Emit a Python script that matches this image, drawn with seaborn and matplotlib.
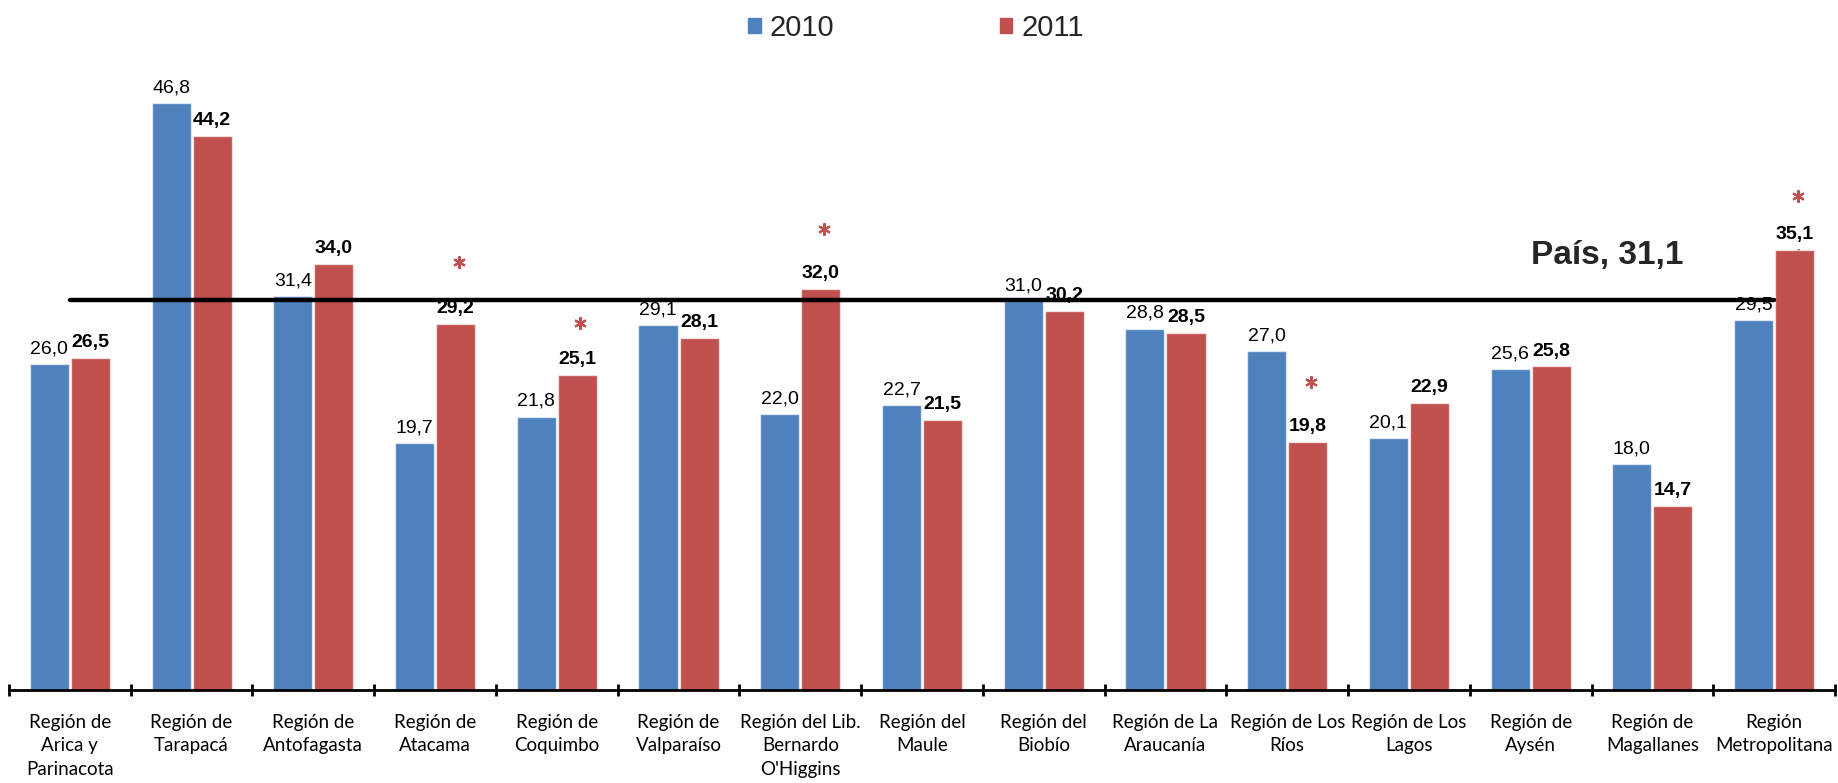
import matplotlib
matplotlib.use("Agg")
import matplotlib.pyplot as plt
import seaborn as sns
import pandas as pd
import numpy as np

# data
regions = ["Región de\nArica y\nParinacota", "Región de\nTarapacá", "Región de\nAntofagasta",
           "Región de\nAtacama", "Región de\nCoquimbo", "Región de\nValparaíso",
           "Región del Lib.\nBernardo\nO'Higgins", "Región del\nMaule", "Región del\nBiobío",
           "Región de La\nAraucanía", "Región de Los\nRíos", "Región de Los\nLagos",
           "Región de\nAysén", "Región de\nMagallanes", "Región\nMetropolitana"]
years = ["2010", "2011"]
values_2010 = [26.0, 46.8, 31.4, 19.7, 21.8, 29.1, 22.0, 22.7, 31.0, 28.8, 27.0, 20.1, 25.6, 18.0, 29.5]
values_2011 = [26.5, 44.2, 34.0, 29.2, 25.1, 28.1, 32.0, 21.5, 30.2, 28.5, 19.8, 22.9, 25.8, 14.7, 35.1]
# heights of the red "*" marks (significant change), None where there is none
asterisk_2011 = [None, None, None, 34.1, 29.3, None, 36.8, None, None, None, 24.6, None, None, None, 39.4]
pais_label = "País"
pais_value = 31.1

colors = {"2010": "#4F81BD", "2011": "#C0504D"}

def fmt(v):
    return f"{v:.1f}".replace(".", ",")

df = pd.DataFrame({
    "region": regions * 2,
    "year": [years[0]] * len(regions) + [years[1]] * len(regions),
    "value": values_2010 + values_2011,
})

sns.set_style("white")
plt.rcParams["font.family"] = ["Liberation Sans", "DejaVu Sans"]

fig = plt.figure(figsize=(18.38, 7.83), dpi=100)
ax = fig.add_axes([9 / 1838, 1 - 690 / 783, 1826 / 1838, 627 / 783])

sns.barplot(data=df, x="region", y="value", hue="year", palette=colors, saturation=1,
            width=0.675, gap=0.05, edgecolor=(1, 1, 1, 0.6), linewidth=1, ax=ax, zorder=2)
ax.get_legend().remove()

# data labels: 2010 regular, 2011 bold
ax.bar_label(ax.containers[0], labels=[fmt(v) for v in values_2010], padding=5,
             fontsize=14, color="black", zorder=3)
ax.bar_label(ax.containers[1], labels=[fmt(v) for v in values_2011], padding=5,
             fontsize=14, fontweight="bold", color="black", zorder=3)

# asterisks over the 2011 bars
for bar, h in zip(ax.containers[1], asterisk_2011):
    if h is None:
        continue
    ax.plot(bar.get_x() + bar.get_width() / 2 + 0.025, h, marker=(6, 2, 0), markersize=9,
            markeredgewidth=1.5, color=colors["2011"], linestyle="none", zorder=3)
# small one peeking behind the Metropolitana bar
last = ax.containers[1][-1]
ax.plot(last.get_x() + last.get_width() / 2 + 0.025, values_2011[-1] - 0.4, marker=(6, 2, 0),
        markersize=9, markeredgewidth=1.5, color=colors["2011"], linestyle="none", zorder=1)

# national average line
ax.plot([0, len(regions) - 1], [pais_value, pais_value], color="black", lw=3.2,
        solid_capstyle="round", zorder=4)
ax.text(12.0, 34.0, f"{pais_label}, {fmt(pais_value)}", fontsize=24, fontweight="bold",
        ha="left", va="baseline", zorder=5)

ax.set_xlim(-0.5, len(regions) - 0.5)
ax.set_ylim(0, 50)
ax.set_xlabel("")
ax.set_ylabel("")
ax.set_yticks([])
for side in ["left", "right", "top"]:
    ax.spines[side].set_visible(False)
ax.spines["bottom"].set_color("black")
ax.spines["bottom"].set_linewidth(2)

ax.set_xticks(np.arange(-0.5, len(regions), 1), minor=True)
ax.tick_params(axis="x", which="both", bottom=True)
ax.tick_params(axis="x", which="minor", direction="inout", length=9, width=2, color="black")
ax.tick_params(axis="x", which="major", length=0, pad=17)
for lbl in ax.get_xticklabels():
    lbl.set_fontfamily(["Lato", "DejaVu Sans"])
    lbl.set_fontsize(13.5)
    lbl.set_linespacing(1.48)
    lbl.set_color("black")

# legend
handles = [plt.Rectangle((0, 0), 1, 1, color=colors[y]) for y in years]
fig.legend(handles, years, loc="center", bbox_to_anchor=(916 / 1838, 1 - 28 / 783), ncol=2,
           frameon=False, fontsize=21, handlelength=0.42, handleheight=0.42,
           handletextpad=0.3, columnspacing=5.7)

fig.savefig("out.png", dpi=100)
